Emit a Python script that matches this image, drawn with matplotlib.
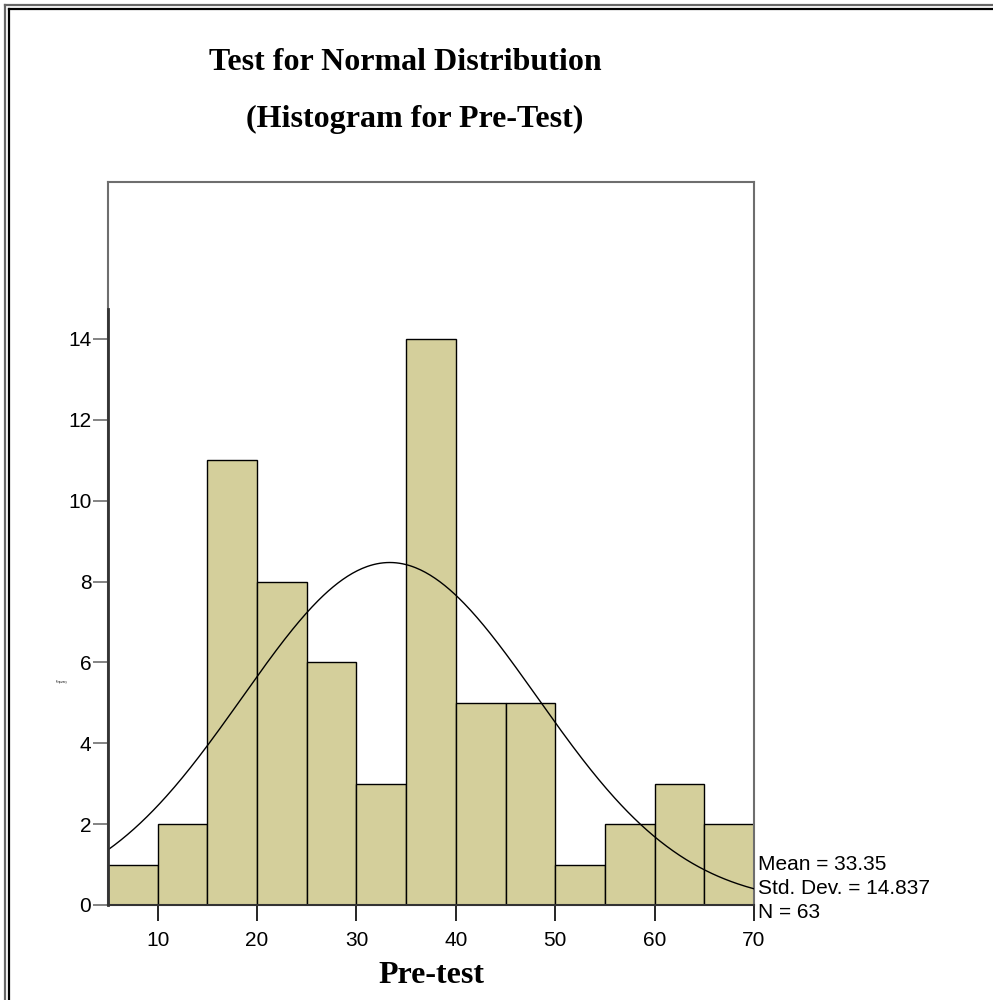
import numpy as np
import matplotlib
matplotlib.use("Agg")
import matplotlib.pyplot as plt
from matplotlib.lines import Line2D

# Data
bin_edges = [5, 10, 15, 20, 25, 30, 35, 40, 45, 50, 55, 60, 65, 70]
counts = [1, 2, 11, 8, 6, 3, 14, 5, 5, 1, 2, 3, 2]
mean_val = 33.35
std_val = 14.837
n_val = 63
x_ticks = [10, 20, 30, 40, 50, 60, 70]
y_ticks = [0, 2, 4, 6, 8, 10, 12, 14]

W, H = 993, 1000
fig = plt.figure(figsize=(W / 100, H / 100), dpi=100)
fig.patch.set_facecolor("white")

def fx(px):
    return px / W

def fy(py):
    return 1 - py / H

ax = fig.add_axes([fx(108), fy(905), fx(754) - fx(108), fy(182) - fy(905)])
ax.set_xlim(5, 70)
ax.set_ylim(0, 17.88)

widths = np.diff(bin_edges)
ax.bar(bin_edges[:-1], counts, width=widths, align="edge",
       color="#D4CF9B", edgecolor="black", linewidth=1.0, zorder=2)

xs = np.linspace(5, 70, 400)
binw = bin_edges[1] - bin_edges[0]
ys = n_val * binw / (std_val * np.sqrt(2 * np.pi)) * np.exp(-0.5 * ((xs - mean_val) / std_val) ** 2)
ax.plot(xs, ys, color="black", linewidth=1.0, zorder=3)

# spines
for s in ["top", "left", "right"]:
    ax.spines[s].set_color("#6E6E6E")
    ax.spines[s].set_linewidth(1.5)
ax.spines["bottom"].set_color("#333333")
ax.spines["bottom"].set_linewidth(1.5)
# dark part of y axis
ax.plot([5, 5], [0, 14.74], color="#333333", linewidth=2.0, clip_on=False, zorder=4)

ax.set_xticks(x_ticks)
ax.set_yticks(y_ticks)
ax.tick_params(axis="x", length=11.5, width=1.2, color="black", labelsize=15, pad=7, direction="out")
ax.tick_params(axis="y", length=11, width=1.2, color="#6E6E6E", labelsize=15, pad=1, direction="out")
for lab in ax.get_xticklabels() + ax.get_yticklabels():
    lab.set_fontfamily("Liberation Sans")

ax.set_xlabel("Pre-test", fontfamily="Liberation Serif", fontweight="bold", fontsize=23, labelpad=8)

# tiny y label
fig.text(fx(62), fy(682), "Frequency", fontsize=1.8, ha="center", va="center",
         fontfamily="Liberation Sans", color="black")

# stats
stats = [f"Mean = {mean_val}", f"Std. Dev. = {std_val}", f"N = {n_val}"]
for i, t in enumerate(stats):
    fig.text(fx(758), fy(865 + 24 * i), t, fontsize=15, fontfamily="Liberation Sans",
             ha="left", va="center")

# titles
fig.text(fx(405), fy(62), "Test for Normal Distribution", fontsize=23,
         fontfamily="Liberation Serif", fontweight="bold", ha="center", va="center")
fig.text(fx(415), fy(119), "(Histogram for Pre-Test)", fontsize=23,
         fontfamily="Liberation Serif", fontweight="bold", ha="center", va="center")

# page border (left and top, double line)
fig.add_artist(Line2D([fx(5), fx(5)], [0, fy(5)], color="#666666", linewidth=1.6, transform=fig.transFigure))
fig.add_artist(Line2D([fx(5), 1], [fy(5), fy(5)], color="#666666", linewidth=1.6, transform=fig.transFigure))
fig.add_artist(Line2D([fx(9), fx(9)], [0, fy(9)], color="black", linewidth=1.6, transform=fig.transFigure))
fig.add_artist(Line2D([fx(9), 1], [fy(9), fy(9)], color="black", linewidth=1.6, transform=fig.transFigure))

fig.savefig("out.png", dpi=100, facecolor="white")
